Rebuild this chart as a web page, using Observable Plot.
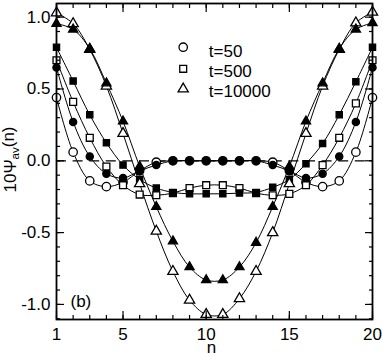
<!DOCTYPE html>
<html><head><meta charset="utf-8">
<script src="https://cdn.jsdelivr.net/npm/d3@7"></script>
<script src="https://cdn.jsdelivr.net/npm/@observablehq/plot@0.6"></script>
<style>body{margin:0;background:#fff} svg{display:block}</style>
</head><body><div id="chart"></div>
<script>
const sites = [1,2,3,4,5,6,7,8,9,10,11,12,13,14,15,16,17,18,19,20];
const t50Open    = [0.44,0.06,-0.14,-0.18,-0.15,-0.07,-0.01,0,0,0,0,0,0,-0.01,-0.07,-0.15,-0.18,-0.14,0.06,0.44];
const t50Filled  = [0.65,0.27,0.03,-0.09,-0.12,-0.07,-0.03,0,0,0,0,0,0,-0.03,-0.07,-0.12,-0.09,0.03,0.27,0.65];
const t500Open   = [0.70,0.41,0.16,-0.04,-0.17,-0.235,-0.24,-0.225,-0.19,-0.17,-0.17,-0.19,-0.225,-0.24,-0.23,-0.17,-0.03,0.16,0.40,0.70];
const t500Filled = [0.79,0.555,0.32,0.125,-0.03,-0.13,-0.19,-0.22,-0.23,-0.23,-0.23,-0.225,-0.22,-0.185,-0.13,-0.02,0.12,0.32,0.55,0.79];
const t10000Open   = [1.03,0.955,0.775,0.52,0.19,-0.16,-0.49,-0.77,-0.97,-1.07,-1.07,-0.96,-0.77,-0.50,-0.16,0.19,0.52,0.775,0.96,1.035];
const t10000Filled = [0.955,0.915,0.78,0.54,0.275,-0.04,-0.32,-0.56,-0.74,-0.83,-0.83,-0.74,-0.57,-0.32,-0.04,0.275,0.54,0.78,0.915,0.96];

const xMajor = [1,5,10,15,20];
const xMinor = sites;
const yMajor = [-1.0,-0.5,0.0,0.5,1.0];
const yMinor = d3.range(-11,11).map(d => d/10);

const legendLabels = ["t=50","t=500","t=10000"];
const legendSymbols = ["circle","square","triangle"];

const series = [
  {values: t50Open, symbol: "circle", fill: "white", r: 4.2},
  {values: t50Filled, symbol: "circle", fill: "black", r: 3.6},
  {values: t500Open, symbol: "square", fill: "white", r: 3.9},
  {values: t500Filled, symbol: "square", fill: "black", r: 3.5},
  {values: t10000Open, symbol: "triangle", fill: "white", r: 3.8},
  {values: t10000Filled, symbol: "triangle", fill: "black", r: 3.4}
];
const rows = s => sites.map((n,i) => ({n, v: s.values[i]}));

const lineMarks = series.map(s => Plot.line(rows(s), {x: "n", y: "v", curve: "catmull-rom", stroke: "black", strokeWidth: 1}));
const dotMarks = series.map(s => Plot.dot(rows(s), {x: "n", y: "v", symbol: () => s.symbol, r: s.r, fill: s.fill, stroke: "black", strokeWidth: 1.3}));

const legendDy = [43.7, 65.3, 85.5];
const legendTextDy = [47.7, 68.3, 87.7];
const legendMarks = legendLabels.flatMap((lab, i) => [
  Plot.dot([lab], {frameAnchor: "top-left", dx: 126.7, dy: legendDy[i], symbol: () => legendSymbols[i], r: [4.2,3.9,3.8][i], fill: "white", stroke: "black", strokeWidth: 1.3}),
  Plot.text([lab], {frameAnchor: "top-left", dx: 152.3, dy: legendTextDy[i], text: d => d, textAnchor: "start", lineAnchor: "middle", fontSize: 17})
]);

const fmt = d => d.toFixed(1);

const chart = Plot.plot({
  width: 383, height: 356,
  marginLeft: 56, marginRight: 11, marginTop: 3, marginBottom: 37,
  style: {fontFamily: "'Liberation Sans', Arial, Helvetica, sans-serif", fontSize: "17px", background: "white", color: "black"},
  x: {domain: [1, 20]},
  y: {domain: [-1.105, 1.095]},
  marks: [
    Plot.ruleY([0], {stroke: "black", strokeWidth: 1.3, strokeDasharray: "10,6.6"}),
    ...lineMarks,
    ...dotMarks,
    ...legendMarks,
    Plot.axisX({ticks: xMajor, anchor: "bottom", tickSize: 0, tickPadding: 8, label: null, fontSize: 17}),
    Plot.axisX({ticks: xMinor, anchor: "bottom", tickSize: -4, fill: "none", label: null, strokeWidth: 1.2}),
    Plot.axisX({ticks: xMajor, anchor: "bottom", tickSize: -8, fill: "none", label: null, strokeWidth: 1.2}),
    Plot.axisX({ticks: xMinor, anchor: "top", tickSize: -4, fill: "none", label: null, strokeWidth: 1.2}),
    Plot.axisX({ticks: xMajor, anchor: "top", tickSize: -8, fill: "none", label: null, strokeWidth: 1.2}),
    Plot.axisY({ticks: yMajor, anchor: "left", tickSize: 0, tickPadding: 6, tickFormat: fmt, label: null, fontSize: 17}),
    Plot.axisY({ticks: yMinor, anchor: "left", tickSize: -4, fill: "none", label: null, strokeWidth: 1.2}),
    Plot.axisY({ticks: yMajor, anchor: "left", tickSize: -8, fill: "none", label: null, strokeWidth: 1.2}),
    Plot.axisY({ticks: yMinor, anchor: "right", tickSize: -4, fill: "none", label: null, strokeWidth: 1.2}),
    Plot.axisY({ticks: yMajor, anchor: "right", tickSize: -8, fill: "none", label: null, strokeWidth: 1.2}),
    Plot.frame({stroke: "black", strokeWidth: 1.8}),
    Plot.text(["n"], {frameAnchor: "bottom", dx: -3, dy: 28, lineAnchor: "middle", fontSize: 17}),
    Plot.text(["(b)"], {frameAnchor: "bottom-left", dx: 14, dy: -18, textAnchor: "start", lineAnchor: "middle", fontSize: 17}),
    Plot.text(["10Ψav(n)"], {frameAnchor: "left", dx: -46, dy: -2, rotate: -90, textAnchor: "middle", lineAnchor: "middle", fontSize: 17})
  ]
});
document.getElementById("chart").appendChild(chart);

// subscript for the y-axis label, then keep it centred on the frame
d3.select(chart).selectAll("text").each(function() {
  const t = d3.select(this);
  if (t.text() === "10Ψav(n)") {
    t.text(null);
    t.append("tspan").text("10Ψ");
    t.append("tspan").attr("dy", "0.3em").attr("font-size", "11.5px").text("av");
    t.append("tspan").attr("dy", "-0.3em").text("(n)");
    const r = this.getBoundingClientRect();
    const s = chart.getBoundingClientRect();
    const [ya, yb] = chart.scale("y").range;
    const target = (ya + yb) / 2 - 2;
    const cy = r.y - s.y + r.height / 2;
    const shift = target - cy;
    if (Math.abs(shift) > 0.5) this.setAttribute("transform", `translate(0,${shift}) ` + (this.getAttribute("transform") || ""));
  }
});
</script>
</body></html>
